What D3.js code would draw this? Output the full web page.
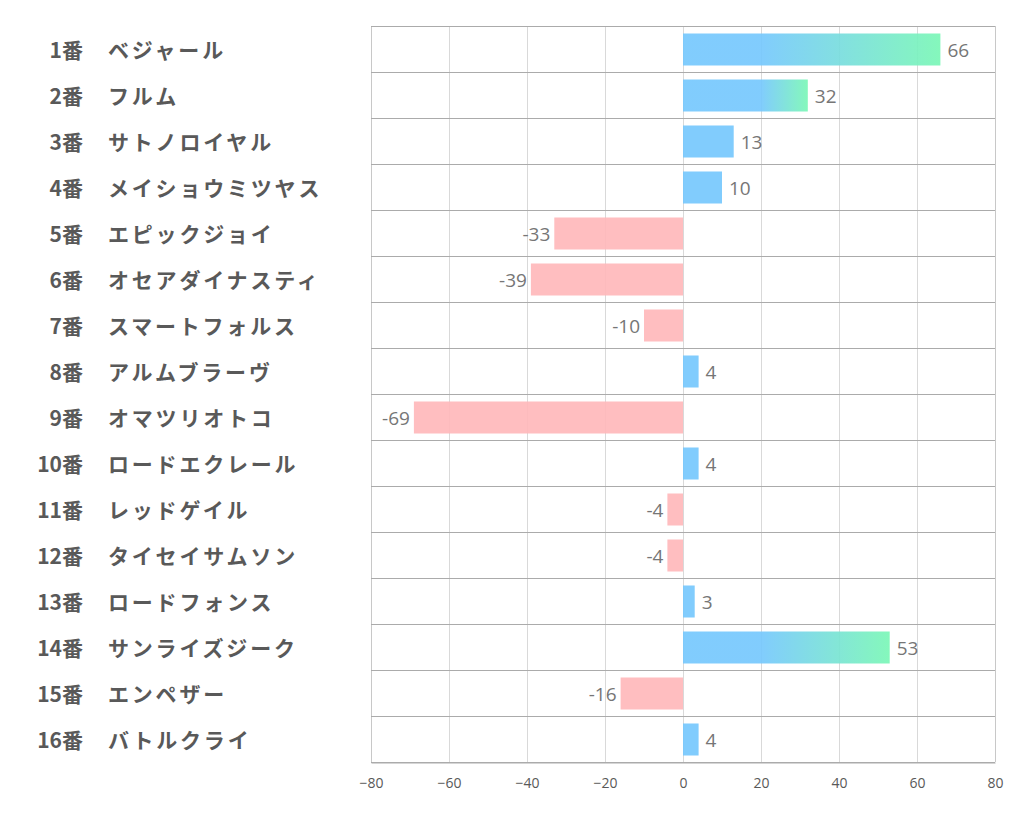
<!DOCTYPE html>
<html><head><meta charset="utf-8">
<script src="https://cdn.jsdelivr.net/npm/d3@7"></script>
<style>body{margin:0;background:#fff}</style>
</head><body><svg id="c" width="1022" height="834"></svg>
<script>
const numbers = ["1番","2番","3番","4番","5番","6番","7番","8番","9番","10番","11番","12番","13番","14番","15番","16番"];
const names = ["ベジャール","フルム","サトノロイヤル","メイショウミツヤス","エピックジョイ","オセアダイナスティ","スマートフォルス","アルムブラーヴ","オマツリオトコ","ロードエクレール","レッドゲイル","タイセイサムソン","ロードフォンス","サンライズジーク","エンペザー","バトルクライ"];
const values = [66,32,13,10,-33,-39,-10,4,-69,4,-4,-4,3,53,-16,4];
const ticks = [-80,-60,-40,-20,0,20,40,60,80];

const svg = d3.select("#c");
const pL = 371, pR = 995, pT = 26, pB = 762;
const x = d3.scaleLinear().domain([-80,80]).range([pL,pR]);
const y = d3.scaleBand().domain(d3.range(values.length)).range([pT,pB]).paddingInner(0).paddingOuter(0);
const barH = 32;
const fontJP = "'Noto Sans CJK JP','Noto Sans',sans-serif";

// vertical grid
svg.append("g").selectAll("line").data(ticks).join("line")
  .attr("x1",d=>x(d)+0.5).attr("x2",d=>x(d)+0.5).attr("y1",pT).attr("y2",pB)
  .attr("stroke",d=>(d===-80||d===80)?"#c8c8c8":"#d9d9d9").attr("stroke-width",1);
// horizontal grid
svg.append("g").selectAll("line").data(d3.range(values.length+1)).join("line")
  .attr("x1",pL).attr("x2",pR)
  .attr("y1",i=>pT+i*y.bandwidth()+0.5).attr("y2",i=>pT+i*y.bandwidth()+0.5)
  .attr("stroke","#ababab").attr("stroke-width",1);

// gradients
const defs = svg.append("defs");
values.forEach((v,i)=>{
  if(v>20){
    const g = defs.append("linearGradient").attr("id","g"+i).attr("gradientUnits","userSpaceOnUse")
      .attr("x1",x(20)).attr("x2",x(v)).attr("y1",0).attr("y2",0);
    g.append("stop").attr("offset","0%").attr("stop-color","#76c8fd");
    g.append("stop").attr("offset","100%").attr("stop-color","#7af7b6");
  }
});

svg.append("g").selectAll("rect").data(values).join("rect")
  .attr("x",d=>x(Math.min(0,d)))
  .attr("width",d=>Math.abs(x(d)-x(0)))
  .attr("y",(d,i)=>y(i)+(y.bandwidth()-barH)/2+0.5)
  .attr("height",barH)
  .attr("fill",(d,i)=>d<0?"#ffb8bb":(d>20?`url(#g${i})`:"#76c8fd"))
  .attr("opacity",0.92);

// value labels
svg.append("g").selectAll("text").data(values).join("text")
  .attr("x",d=>d<0?x(d)-4:x(d)+7)
  .attr("y",(d,i)=>y(i)+y.bandwidth()/2+1)
  .attr("text-anchor",d=>d<0?"end":"start")
  .attr("dominant-baseline","central")
  .attr("font-family","'Open Sans','Noto Sans',sans-serif")
  .attr("font-size",19).attr("fill","#767676")
  .text(d=>d);

// category labels
const lab = svg.append("g");
lab.selectAll("text.n").data(numbers).join("text").attr("class","n")
  .attr("x",83).attr("y",(d,i)=>y(i)+y.bandwidth()/2)
  .attr("text-anchor","end").attr("dominant-baseline","central")
  .attr("font-family",fontJP).attr("font-weight","bold").attr("font-size",21).attr("fill","#595959")
  .text(d=>d);
lab.selectAll("text.m").data(names).join("text").attr("class","m")
  .attr("x",108).attr("y",(d,i)=>y(i)+y.bandwidth()/2)
  .attr("dominant-baseline","central")
  .attr("font-family",fontJP).attr("font-weight","bold").attr("font-size",21)
  .attr("letter-spacing",2.8).attr("fill","#595959")
  .text(d=>d);

// x axis
const ax = svg.append("g").attr("transform",`translate(0,${pB+0.5})`)
  .call(d3.axisBottom(x).tickValues(ticks).tickSize(0).tickPadding(16));
ax.select(".domain").attr("stroke","#ababab");
ax.selectAll("text").attr("font-family","'Open Sans','Noto Sans',sans-serif").attr("font-size",14).attr("fill","#595959");
</script>
</body></html>
